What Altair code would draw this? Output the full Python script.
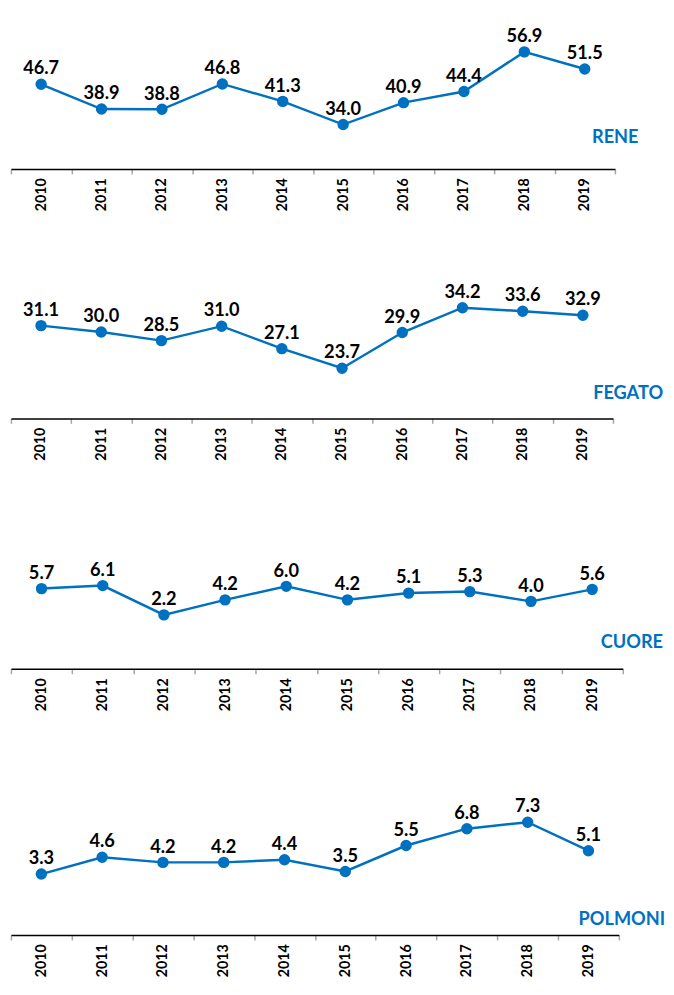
import altair as alt
import pandas as pd

years = ["2010", "2011", "2012", "2013", "2014", "2015", "2016", "2017", "2018", "2019"]
rene = [46.7, 38.9, 38.8, 46.8, 41.3, 34.0, 40.9, 44.4, 56.9, 51.5]
fegato = [31.1, 30.0, 28.5, 31.0, 27.1, 23.7, 29.9, 34.2, 33.6, 32.9]
cuore = [5.7, 6.1, 2.2, 4.2, 6.0, 4.2, 5.1, 5.3, 4.0, 5.6]
polmoni = [3.3, 4.6, 4.2, 4.2, 4.4, 3.5, 5.5, 6.8, 7.3, 5.1]

BLUE = "#0070C0"
FONT = "Lato"

# (name, values, width, height, y-domain, title x, title y, title align)
panels = [
    ("RENE", rene, 615, 163, [20, 70.45], 639, 137, "right"),
    ("FEGATO", fegato, 613, 154, [15, 41.23], 664, 134, "right"),
    ("CUORE", cuore, 623, 155, [-5, 15.29], 664, 134, "right"),
    ("POLMONI", polmoni, 619, 171, [-1.4, 11.55], 578, 161, "left"),
]


def make_panel(name, vals, w, h, dom, tx, ty, talign):
    df = pd.DataFrame({"year": years, "v": vals})
    x = alt.X(
        "year:N",
        sort=years,
        bandPosition=0.5,
        scale=alt.Scale(type="band", paddingInner=0, paddingOuter=0),
        axis=alt.Axis(
            title=None,
            labelAngle=-90,
            labelFont=FONT,
            labelFontWeight="bold",
            labelFontSize=14.5,
            labelColor="black",
            labelPadding=4,
            tickBand="extent",
            tickSize=5,
            tickColor="#a6a6a6",
            tickWidth=1.5,
            domainColor="black",
            domainWidth=1.5,
            grid=False,
        ),
    )
    y = alt.Y("v:Q", scale=alt.Scale(domain=dom, nice=False, zero=False), axis=None)
    base = alt.Chart(df).encode(x=x, y=y)
    line = base.mark_line(color=BLUE, strokeWidth=2.5)
    pts = base.mark_point(filled=True, color=BLUE, size=135, opacity=1)
    lbl = base.mark_text(
        dy=-10, baseline="alphabetic", font=FONT, fontWeight="bold", fontSize=18.5, color="black"
    ).encode(text=alt.Text("v:Q", format=".1f"))
    title = alt.Chart(pd.DataFrame({"t": [name]})).mark_text(
        align=talign, baseline="alphabetic", font=FONT, fontWeight="bold", fontSize=18.5, color=BLUE
    ).encode(text="t:N", x=alt.value(tx), y=alt.value(ty))
    return alt.layer(line, pts, lbl, title).properties(width=w, height=h)


pad = {"left": -5, "top": -8, "right": 0, "bottom": 0}

chart = (
    alt.vconcat(*[make_panel(*p) for p in panels], spacing=100, bounds="flush")
    .properties(padding=pad)
    .configure_view(stroke=None)
)

chart.save("out.html", embed_options={"renderer": "svg", "actions": False})
